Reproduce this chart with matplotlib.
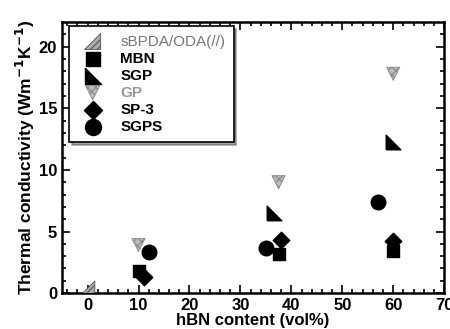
import matplotlib.pyplot as plt
import numpy as np

plt.rcParams['font.family'] = ['Liberation Sans', 'DejaVu Sans']
plt.rcParams['font.weight'] = 'bold'
plt.rcParams['hatch.color'] = '#555555'
plt.rcParams['hatch.linewidth'] = 0.8

# data (hBN vol%, W/mK)
sbpda_x = [0]
sbpda_y = [0.4]
mbn_x = [10, 37.5, 60]
mbn_y = [1.8, 3.2, 3.4]
sgp_x = [36.5, 60]
sgp_y = [6.5, 12.3]
gp_x = [10, 37.5, 60]
gp_y = [3.9, 9.0, 17.8]
sp3_x = [11, 38, 60]
sp3_y = [1.3, 4.3, 4.2]
sgps_x = [12, 35, 57]
sgps_y = [3.3, 3.7, 7.4]

# right-triangle markers
tri_lr = [(-1, -1), (1, -1), (1, 1), (-1, -1)]   # sBPDA/ODA
tri_ll = [(-1, -1), (1, -1), (-1, 1), (-1, -1)]  # SGP

fig = plt.figure(figsize=(4.5, 3.29), dpi=100)
ax = fig.add_axes([0.138, 0.109, 0.849, 0.824])

ax.scatter(sbpda_x, sbpda_y, marker=tri_lr, s=110, facecolor='#aaaaaa',
           edgecolor='#555555', hatch='/////', linewidth=0.6, label='sBPDA/ODA(//)', zorder=3)
ax.scatter(mbn_x, mbn_y, marker='s', s=75, color='black', label='MBN', zorder=3)
ax.scatter(sgp_x, sgp_y, marker=tri_ll, s=110, color='black', label='SGP', zorder=3)
ax.scatter(gp_x, gp_y, marker='v', s=90, facecolor='#bbbbbb', edgecolor='#888888',
           hatch='xxxx', linewidth=0.6, label='GP', zorder=3)
ax.scatter(sp3_x, sp3_y, marker='D', s=70, color='black', label='SP-3', zorder=3)
ax.scatter(sgps_x, sgps_y, marker='o', s=110, color='black', label='SGPS', zorder=3)

ax.set_xlim(-5, 70)
ax.set_ylim(0, 22)
ax.set_xticks([0, 10, 20, 30, 40, 50, 60, 70])
ax.set_yticks([0, 5, 10, 15, 20])
ax.set_xticks(np.arange(-4, 70, 2), minor=True)
ax.set_yticks(np.arange(0, 22, 1), minor=True)
ax.tick_params(which='both', direction='in', top=True, right=True, labelsize=12, width=1.2)
ax.tick_params(which='major', length=6)
ax.tick_params(which='minor', length=3)
for sp in ax.spines.values():
    sp.set_linewidth(1.8)

ax.set_xlabel('hBN content (vol%)', fontsize=12, fontweight='bold', labelpad=0)
ax.set_ylabel('Thermal conductivity (Wm$^{\\mathbf{-1}}$K$^{\\mathbf{-1}}$)',
              fontsize=12.5, fontweight='bold', labelpad=1)

leg = ax.legend(loc='upper left', bbox_to_anchor=(0.018, 0.985), fontsize=11,
                frameon=True, fancybox=False, shadow=True, handletextpad=0.8,
                labelspacing=0.2, borderpad=0.55, borderaxespad=0, scatterpoints=1,
                markerscale=1.1)
leg.get_frame().set_edgecolor('black')
leg.get_frame().set_linewidth(1.2)
for t, c in zip(leg.get_texts(), ['#777777', 'black', 'black', '#999999', 'black', 'black']):
    t.set_color(c)
leg.get_texts()[0].set_fontweight('normal')

fig.savefig('out.png', dpi=100)
